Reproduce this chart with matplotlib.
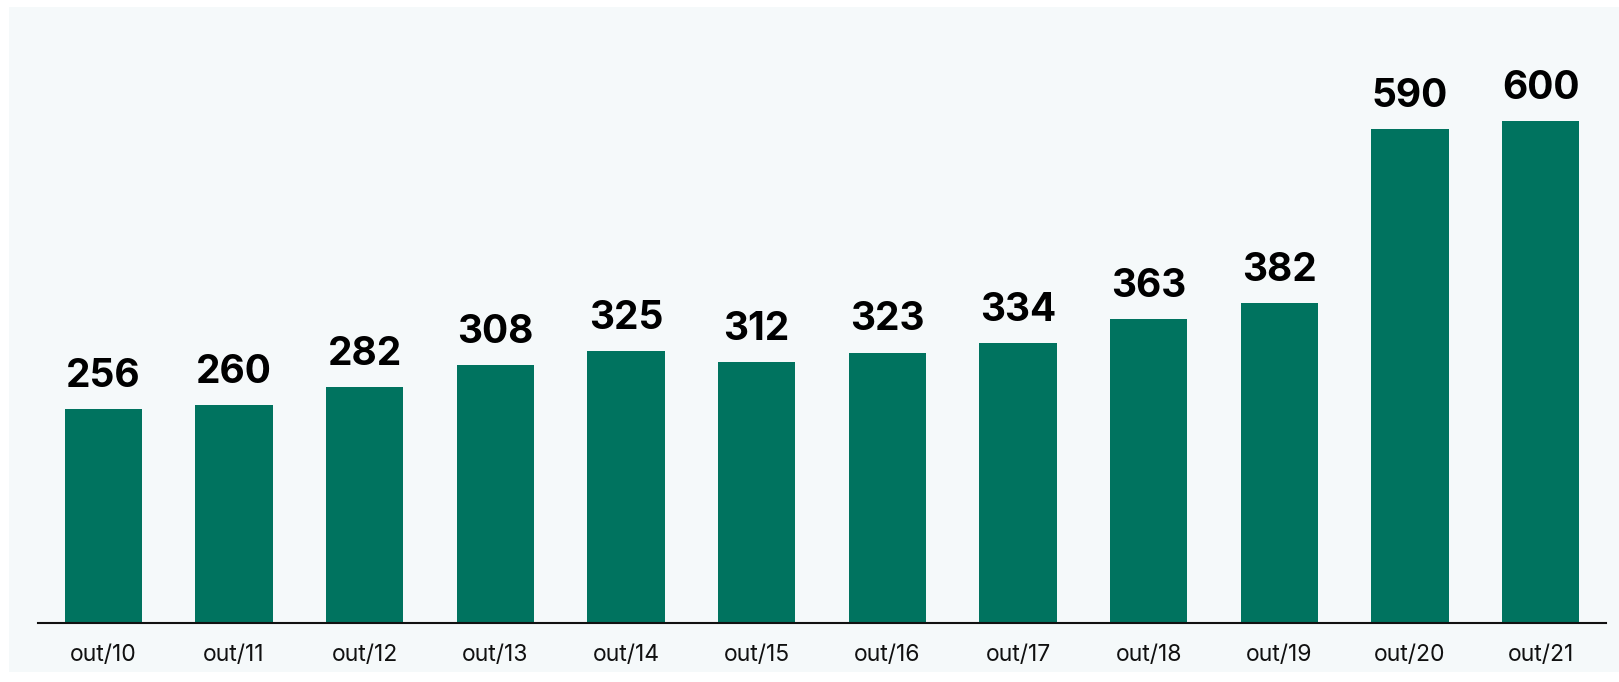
import matplotlib
matplotlib.use("Agg")
import matplotlib.pyplot as plt

# dados
datas = ["out/10", "out/11", "out/12", "out/13", "out/14", "out/15",
         "out/16", "out/17", "out/18", "out/19", "out/20", "out/21"]
valores = [256, 260, 282, 308, 325, 312, 323, 334, 363, 382, 590, 600]

COR_BARRA = "#00735f"
COR_FUNDO = "#f5f9fa"

W, H = 1619, 682
fig = plt.figure(figsize=(W / 100, H / 100), dpi=100, facecolor="white")

# painel de fundo claro (eixo vazio atrás do gráfico)
fundo = fig.add_axes([9 / W, 10 / H, 1 - 9 / W, (H - 17) / H], zorder=-1)
fundo.set_facecolor(COR_FUNDO)
for s in fundo.spines.values():
    s.set_visible(False)
fundo.set_xticks([])
fundo.set_yticks([])

ax = fig.add_axes([38 / W, (H - 623) / H, (1606 - 38) / W, (623 - 7) / H])
ax.patch.set_alpha(0)

x = range(len(datas))
bars = ax.bar(x, valores, width=0.59, color=COR_BARRA, zorder=2)

# rótulos de valor acima das barras
for b, v in zip(bars, valores):
    ax.text(b.get_x() + b.get_width() / 2, v + 17, str(v), ha="center", va="bottom",
            fontsize=28, fontweight="bold", family="Inter", color="black")

ax.set_xlim(-0.5, 11.5)
ax.set_ylim(0, 736)
ax.set_xticks(list(x))
ax.set_xticklabels(datas, fontsize=16.5, family="Inter", color="#111111")
ax.tick_params(axis="x", length=0, pad=15)
ax.set_yticks([])
for s in ["top", "right", "left"]:
    ax.spines[s].set_visible(False)
ax.spines["bottom"].set_linewidth(1.5)
ax.spines["bottom"].set_color("#111111")

fig.savefig("out.png", dpi=100, facecolor="white")
